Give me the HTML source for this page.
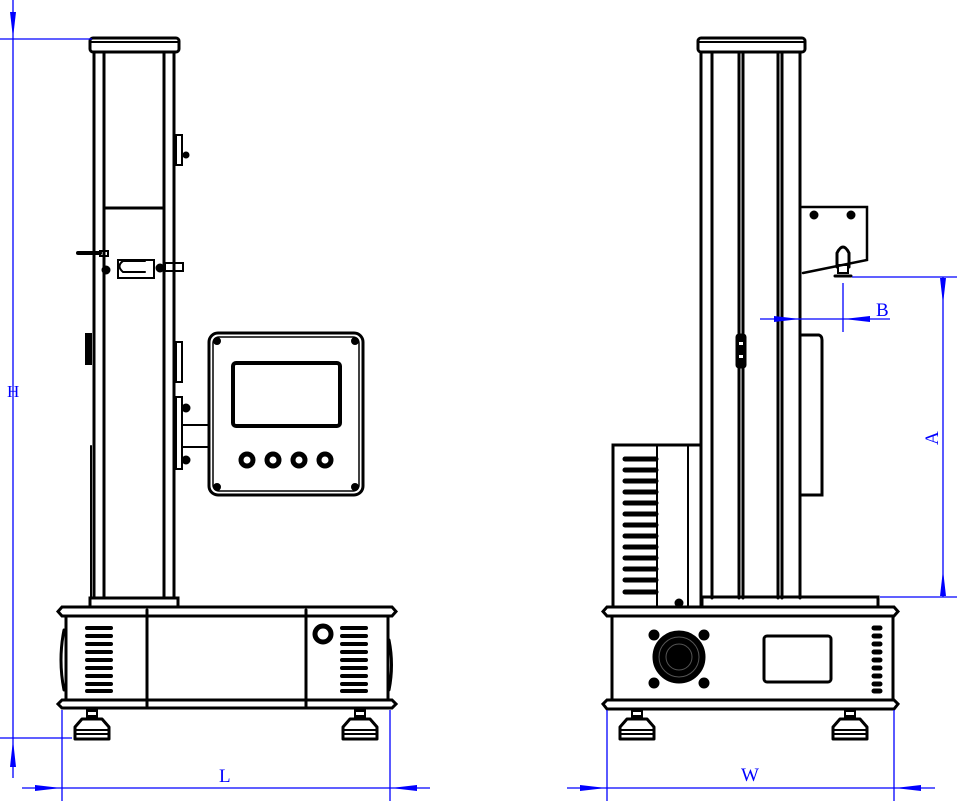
<!DOCTYPE html>
<html><head><meta charset="utf-8"><style>
html,body{margin:0;padding:0;background:#fff;}
svg{display:block;}
text{font-family:"Liberation Serif",serif;fill:#0000ff;}
</style></head><body>
<svg width="957" height="801" viewBox="0 0 957 801" xmlns="http://www.w3.org/2000/svg">
<defs>
<g id="foot">
<rect x="12" y="0" width="12" height="10" fill="#000"/>
<rect x="14" y="3" width="8" height="3" fill="#fff"/>
<path d="M8 10 H28 L35 18 V30 H1 V18 Z" fill="#fff" stroke="#000" stroke-width="3" stroke-linejoin="round"/>
<line x1="2" y1="21" x2="34" y2="21" stroke="#000" stroke-width="2"/>
<line x1="2" y1="25" x2="34" y2="25" stroke="#000" stroke-width="2"/>
</g>
</defs>
<g fill="none" stroke="#000" stroke-width="3" stroke-linecap="round">
<!-- LEFT VIEW column -->
<rect x="90" y="38" width="89" height="14" rx="3"/>
<line x1="91" y1="42" x2="178" y2="42" stroke-width="2"/>
<line x1="94" y1="52" x2="94" y2="598"/>
<line x1="104" y1="52" x2="104" y2="598"/>
<line x1="164" y1="52" x2="164" y2="598"/>
<line x1="174" y1="52" x2="174" y2="598"/>
<rect x="90" y="598" width="88" height="9"/>
<line x1="104" y1="208" x2="164" y2="208"/>
<!-- clamp -->
<path d="M78 253 H100" stroke-width="4"/>
<rect x="100" y="251" width="8" height="5" stroke-width="2"/>
<rect x="118" y="260" width="36" height="18" stroke-width="2"/>
<path d="M145 261 H123 Q116 266 123 272 H145" stroke-width="2"/>
<circle cx="106" cy="270" r="3" fill="#000"/>
<circle cx="160" cy="268" r="3" fill="#000"/>
<rect x="165" y="263" width="18" height="8" stroke-width="2"/>
<!-- side blocks -->
<rect x="86" y="334" width="5" height="30" stroke-width="2" fill="#000"/>
<rect x="176" y="342" width="6" height="40" stroke-width="2"/>
<rect x="176" y="397" width="6" height="72" stroke-width="2"/>
<circle cx="186" cy="408" r="3" fill="#000"/><circle cx="186" cy="460" r="3" fill="#000"/>
<rect x="176" y="135" width="6" height="30" stroke-width="2"/>
<circle cx="186" cy="155" r="2" fill="#000"/>
<line x1="91" y1="446" x2="91" y2="598" stroke-width="2"/>
<!-- arm -->
<line x1="182" y1="425" x2="209" y2="425" stroke-width="2"/>
<line x1="182" y1="447" x2="209" y2="447" stroke-width="2"/>
<!-- panel -->
<rect x="209" y="333" width="154" height="162" rx="9"/>
<rect x="213" y="337" width="146" height="154" rx="6" stroke-width="1.5"/>
<rect x="233" y="363" width="107" height="63" rx="3" stroke-width="4"/>
<circle cx="247" cy="460" r="6" stroke-width="5"/>
<circle cx="273" cy="460" r="6" stroke-width="5"/>
<circle cx="299" cy="460" r="6" stroke-width="5"/>
<circle cx="325" cy="460" r="6" stroke-width="5"/>
<circle cx="217" cy="341" r="2.5" fill="#000"/><circle cx="355" cy="341" r="2.5" fill="#000"/>
<circle cx="217" cy="487" r="2.5" fill="#000"/><circle cx="355" cy="487" r="2.5" fill="#000"/>
<!-- base left -->
<path d="M62 607 H392 L396 611.5 L392 616 H62 L58 611.5 Z"/>
<rect x="66" y="616" width="322" height="84"/>
<path d="M62 700 H392 L396 704 L392 708 H62 L58 704 Z"/>
<line x1="147" y1="610" x2="147" y2="706"/>
<line x1="306" y1="610" x2="306" y2="706"/>
<path d="M64 630 Q58 660 64 690" stroke-width="3"/>
<path d="M389 640 Q394 665 389 690" stroke-width="3"/>
<g stroke-width="4">
<line x1="87" y1="628" x2="111" y2="628"/><line x1="87" y1="636" x2="111" y2="636"/><line x1="87" y1="644" x2="111" y2="644"/><line x1="87" y1="652" x2="111" y2="652"/><line x1="87" y1="660" x2="111" y2="660"/><line x1="87" y1="668" x2="111" y2="668"/><line x1="87" y1="676" x2="111" y2="676"/><line x1="87" y1="684" x2="111" y2="684"/><line x1="87" y1="691" x2="111" y2="691"/>
<line x1="342" y1="628" x2="366" y2="628"/><line x1="342" y1="636" x2="366" y2="636"/><line x1="342" y1="644" x2="366" y2="644"/><line x1="342" y1="652" x2="366" y2="652"/><line x1="342" y1="660" x2="366" y2="660"/><line x1="342" y1="668" x2="366" y2="668"/><line x1="342" y1="676" x2="366" y2="676"/><line x1="342" y1="684" x2="366" y2="684"/><line x1="342" y1="691" x2="366" y2="691"/>
</g>
<circle cx="323" cy="634" r="8" stroke-width="5"/>

<!-- RIGHT VIEW column -->
<rect x="698" y="38" width="107" height="14" rx="3"/>
<line x1="699" y1="42" x2="804" y2="42" stroke-width="2"/>
<line x1="701" y1="52" x2="701" y2="598"/>
<line x1="712" y1="52" x2="712" y2="598"/>
<line x1="739" y1="52" x2="739" y2="598"/>
<line x1="743" y1="52" x2="743" y2="598"/>
<line x1="778" y1="52" x2="778" y2="598"/>
<line x1="782" y1="52" x2="782" y2="598"/>
<line x1="800" y1="52" x2="800" y2="598"/>
<rect x="737" y="335" width="8" height="32" rx="2" fill="#000"/>
<rect x="739" y="342" width="4" height="3" fill="#fff" stroke="none"/>
<rect x="739" y="355" width="4" height="3" fill="#fff" stroke="none"/>
<path d="M802 207 H867 V260 L803 273" stroke-width="2.5"/>
<circle cx="814" cy="215" r="3" fill="#000"/><circle cx="851" cy="215" r="3" fill="#000"/>
<path d="M837 267 V253 Q843 241 849 253 V267" stroke-width="3"/>
<rect x="838" y="265" width="10" height="8" stroke-width="2"/>
<path d="M835 276 H851" stroke-width="3"/>
<path d="M800 335 H819 Q822 336 822 340 V495 H800" stroke-width="3"/>
<!-- control box -->
<rect x="613" y="445" width="88" height="162" stroke-width="3"/>
<line x1="657" y1="445" x2="657" y2="607" stroke-width="2"/>
<line x1="688" y1="445" x2="688" y2="607" stroke-width="2"/>
<g stroke-width="5">
<line x1="625" y1="459" x2="656" y2="459"/><line x1="625" y1="470" x2="656" y2="470"/><line x1="625" y1="481" x2="656" y2="481"/><line x1="625" y1="492" x2="656" y2="492"/><line x1="625" y1="503" x2="656" y2="503"/><line x1="625" y1="514" x2="656" y2="514"/><line x1="625" y1="525" x2="656" y2="525"/><line x1="625" y1="536" x2="656" y2="536"/><line x1="625" y1="547" x2="656" y2="547"/><line x1="625" y1="558" x2="656" y2="558"/><line x1="625" y1="569" x2="656" y2="569"/><line x1="625" y1="580" x2="656" y2="580"/><line x1="625" y1="592" x2="656" y2="592"/>
</g>
<circle cx="679" cy="603" r="3" fill="#000"/>
<rect x="702" y="597" width="176" height="10"/>
<!-- base right -->
<path d="M607 607 H894 L898 611.5 L894 616 H607 L603 611.5 Z"/>
<rect x="612" y="616" width="281" height="84"/>
<path d="M607 700 H894 L898 704 L894 709 H607 L603 704 Z"/>
<circle cx="679" cy="657" r="25" fill="#000"/>
<circle cx="679" cy="657" r="20" stroke="#555" stroke-width="1"/>
<circle cx="679" cy="657" r="13" stroke="#555" stroke-width="1"/>
<circle cx="654" cy="635" r="4" fill="#000"/><circle cx="704" cy="635" r="4" fill="#000"/>
<circle cx="654" cy="683" r="4" fill="#000"/><circle cx="704" cy="683" r="4" fill="#000"/>
<rect x="764" y="636" width="67" height="46" rx="3" stroke-width="3"/>
<g stroke-width="5">
<line x1="874" y1="628" x2="880" y2="628"/><line x1="874" y1="636" x2="880" y2="636"/><line x1="874" y1="644" x2="880" y2="644"/><line x1="874" y1="652" x2="880" y2="652"/><line x1="874" y1="660" x2="880" y2="660"/><line x1="874" y1="668" x2="880" y2="668"/><line x1="874" y1="676" x2="880" y2="676"/><line x1="874" y1="684" x2="880" y2="684"/><line x1="874" y1="691" x2="880" y2="691"/>
</g>
</g>
<use href="#foot" x="74" y="709"/>
<use href="#foot" x="342" y="709"/>
<use href="#foot" x="619" y="709"/>
<use href="#foot" x="832" y="709"/>

<!-- DIMENSIONS -->
<g stroke="#0000ff" stroke-width="1.3" fill="none">
<line x1="13" y1="0" x2="13" y2="778"/>
<line x1="0" y1="39" x2="92" y2="39"/>
<line x1="0" y1="738" x2="72" y2="738"/>
<line x1="22" y1="788" x2="430" y2="788"/>
<line x1="62" y1="710" x2="62" y2="801"/>
<line x1="390" y1="710" x2="390" y2="801"/>
<line x1="567" y1="788" x2="935" y2="788"/>
<line x1="607" y1="710" x2="607" y2="801"/>
<line x1="894" y1="710" x2="894" y2="801"/>
<line x1="852" y1="277" x2="957" y2="277"/>
<line x1="880" y1="597" x2="957" y2="597"/>
<line x1="943" y1="277" x2="943" y2="597"/>
<line x1="760" y1="319" x2="890" y2="319"/>
<line x1="843" y1="283" x2="843" y2="332"/>
</g>
<g fill="#0000ff">
<path d="M10 12 L16 12 L13 38 Z"/>
<path d="M10 767 L16 767 L13 740 Z"/>
<path d="M35 785 L35 791 L61 788 Z"/>
<path d="M417 785 L417 791 L391 788 Z"/>
<path d="M580 785 L580 791 L606 788 Z"/>
<path d="M921 785 L921 791 L895 788 Z"/>
<path d="M940 278 L946 278 L943 304 Z"/>
<path d="M940 596 L946 596 L943 570 Z"/>
<path d="M774 316 L774 322 L800 319 Z"/>
<path d="M870 316 L870 322 L844 319 Z"/>
</g>
<text x="7" y="397" font-size="17">H</text>
<text x="219" y="782" font-size="19">L</text>
<text x="741" y="781" font-size="19">W</text>
<text x="876" y="316" font-size="19">B</text>
<text x="0" y="0" font-size="19" transform="translate(938,445) rotate(-90)">A</text>
</svg>
</body></html>
